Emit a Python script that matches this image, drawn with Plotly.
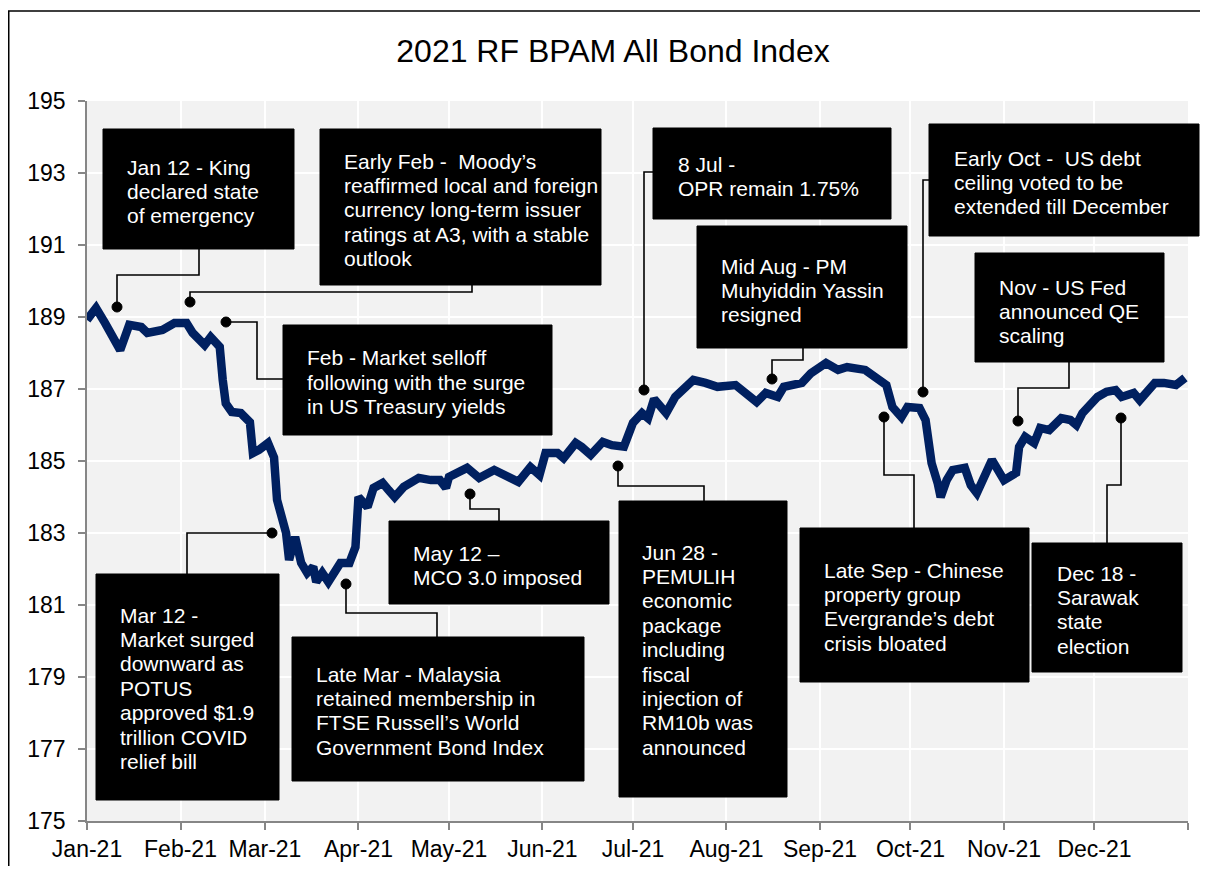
import plotly.graph_objects as go

# ---------------- data ----------------
dates = [
    "2021-01-01", "2021-01-04", "2021-01-07", "2021-01-10", "2021-01-12", "2021-01-15",
    "2021-01-19", "2021-01-21", "2021-01-26", "2021-01-30", "2021-02-03", "2021-02-05",
    "2021-02-09", "2021-02-11", "2021-02-14", "2021-02-15", "2021-02-16", "2021-02-18",
    "2021-02-21", "2021-02-24", "2021-02-25", "2021-02-27", "2021-03-02", "2021-03-04",
    "2021-03-05", "2021-03-08", "2021-03-09", "2021-03-11", "2021-03-13", "2021-03-15",
    "2021-03-17", "2021-03-18", "2021-03-20", "2021-03-22", "2021-03-24", "2021-03-26",
    "2021-03-29", "2021-03-31", "2021-04-01", "2021-04-04", "2021-04-06", "2021-04-09",
    "2021-04-11", "2021-04-13", "2021-04-16", "2021-04-21", "2021-04-25", "2021-04-28",
    "2021-04-30", "2021-05-01", "2021-05-07", "2021-05-11", "2021-05-16", "2021-05-21",
    "2021-05-24", "2021-05-28", "2021-05-31", "2021-06-02", "2021-06-06", "2021-06-08",
    "2021-06-12", "2021-06-14", "2021-06-17", "2021-06-21", "2021-06-24", "2021-06-28",
    "2021-07-01", "2021-07-04", "2021-07-06", "2021-07-08", "2021-07-12", "2021-07-15",
    "2021-07-21", "2021-07-25", "2021-07-29", "2021-08-04", "2021-08-07", "2021-08-11",
    "2021-08-14", "2021-08-18", "2021-08-20", "2021-08-26", "2021-08-29", "2021-09-03",
    "2021-09-07", "2021-09-10", "2021-09-16", "2021-09-20", "2021-09-23", "2021-09-25",
    "2021-09-28", "2021-09-30", "2021-10-04", "2021-10-06", "2021-10-08", "2021-10-10",
    "2021-10-11", "2021-10-13", "2021-10-15", "2021-10-19", "2021-10-21", "2021-10-23",
    "2021-10-26", "2021-10-28", "2021-11-01", "2021-11-05", "2021-11-06", "2021-11-08",
    "2021-11-11", "2021-11-13", "2021-11-16", "2021-11-20", "2021-11-23", "2021-11-25",
    "2021-11-27", "2021-12-02", "2021-12-05", "2021-12-08", "2021-12-10", "2021-12-14",
    "2021-12-16", "2021-12-21", "2021-12-24", "2021-12-28", "2021-12-31",
]
index_values = [
    188.92, 189.25, 188.83, 188.36, 188.08, 188.78,
    188.72, 188.56, 188.64, 188.83, 188.83, 188.56,
    188.22, 188.44, 188.17, 187.25, 186.60, 186.36,
    186.33, 186.08, 185.22, 185.31, 185.50, 185.10,
    183.92, 183.00, 182.25, 182.89, 182.17, 181.89,
    182.06, 181.64, 181.89, 181.64, 181.97, 182.17,
    182.17, 182.61, 184.00, 183.72, 184.25, 184.39,
    184.19, 184.00, 184.28, 184.53, 184.47, 184.47,
    184.25, 184.56, 184.81, 184.53, 184.75, 184.56,
    184.42, 184.83, 184.61, 185.22, 185.22, 185.08,
    185.50, 185.39, 185.17, 185.53, 185.44, 185.40,
    186.06, 186.33, 186.19, 186.72, 186.33, 186.78,
    187.25, 187.17, 187.06, 187.11, 186.89, 186.64,
    186.89, 186.78, 187.06, 187.17, 187.44, 187.72,
    187.53, 187.61, 187.53, 187.31, 187.11, 186.50,
    186.22, 186.50, 186.47, 186.14, 184.94, 184.39,
    184.00, 184.47, 184.75, 184.81, 184.33, 184.11,
    184.75, 185.03, 184.47, 184.67, 185.39, 185.67,
    185.50, 185.92, 185.86, 186.19, 186.14, 186.00,
    186.33, 186.78, 186.92, 186.97, 186.78, 186.89,
    186.69, 187.17, 187.17, 187.11, 187.31,
]

month_ticks = [
    "2021-01-01", "2021-02-01", "2021-03-01", "2021-04-01", "2021-05-01", "2021-06-01",
    "2021-07-01", "2021-08-01", "2021-09-01", "2021-10-01", "2021-11-01", "2021-12-01",
    "2022-01-01",
]
month_labels = [
    "Jan-21", "Feb-21", "Mar-21", "Apr-21", "May-21", "Jun-21",
    "Jul-21", "Aug-21", "Sep-21", "Oct-21", "Nov-21", "Dec-21", "",
]
y_ticks = [175, 177, 179, 181, 183, 185, 187, 189, 191, 193, 195]

title_text = "2021 RF BPAM All Bond Index"

# event annotations: text lines
event_texts = [
    ["Jan 12 - King", "declared state", "of emergency"],
    ["Early Feb -  Moody\u2019s", "reaffirmed local and foreign", "currency long-term issuer",
     "ratings at A3, with a stable", "outlook"],
    ["Feb - Market selloff", "following with the surge", "in US Treasury yields"],
    ["Mar 12 -", "Market surged", "downward as", "POTUS", "approved $1.9",
     "trillion COVID", "relief bill"],
    ["Late Mar - Malaysia", "retained membership in", "FTSE Russell\u2019s World",
     "Government Bond Index"],
    ["May 12 \u2013", "MCO 3.0 imposed"],
    ["Jun 28 -", "PEMULIH", "economic", "package", "including", "fiscal",
     "injection of", "RM10b was", "announced"],
    ["8 Jul -", "OPR remain 1.75%"],
    ["Mid Aug - PM", "Muhyiddin Yassin", "resigned"],
    ["Early Oct -  US debt", "ceiling voted to be", "extended till December"],
    ["Nov - US Fed", "announced QE", "scaling"],
    ["Late Sep - Chinese", "property group", "Evergrande\u2019s debt", "crisis bloated"],
    ["Dec 18 -", "Sarawak", "state", "election"],
]

# layout (page pixel positions): box (x0, y0, x1, y1), text left x, first line y, connector path
boxes = [
    (103, 129, 294, 249), (320, 129, 601, 285), (283, 325, 552, 435),
    (96, 574, 279, 800), (292, 637, 584, 781), (389, 521, 609, 604),
    (619, 501, 787, 797), (653, 128, 891, 219), (697, 226, 907, 348),
    (929, 124, 1199, 236), (975, 253, 1164, 362), (800, 528, 1029, 682),
    (1032, 543, 1182, 672),
]
text_pos = [
    (125, 166), (342, 160), (305, 357), (118, 614), (314, 673), (411, 552),
    (640, 551), (676, 163), (719, 265), (952, 157), (997, 286), (822, 569),
    (1055, 572),
]
connectors = [
    [(199, 249), (199, 275), (117, 275), (117, 307)],
    [(472, 285), (472, 292), (190, 292), (190, 302)],
    [(283, 379), (257, 379), (257, 322), (226, 322)],
    [(187, 574), (187, 533), (272, 533)],
    [(437, 637), (437, 613), (346, 613), (346, 584)],
    [(499, 521), (499, 509), (470, 509), (470, 494)],
    [(704, 501), (704, 486), (618, 486), (618, 466)],
    [(653, 172), (644, 172), (644, 390)],
    [(803, 348), (803, 360), (772, 360), (772, 379)],
    [(929, 180), (923, 180), (923, 392)],
    [(1069, 362), (1069, 388), (1018, 388), (1018, 421)],
    [(914, 528), (914, 475), (884, 475), (884, 417)],
    [(1107, 543), (1107, 485), (1121, 485), (1121, 418)],
]

# ---------------- figure ----------------
OFF = 8                      # page body margin
W, H = 1192, 858             # figure size (fits window with body margin, no overflow)
PL, PT, PR, PB = 87, 101, 1188, 821   # plot area in page pixels
L, T = PL - OFF, PT - OFF
PW, PH = PR - PL, PB - PT
R, B = W - L - PW, H - T - PH


def px(x):
    return (x - PL) / PW


def py(y):
    return (PB - y) / PH


FONT = "Liberation Sans, Arial, sans-serif"
LINE_H = 24.4

fig = go.Figure()
fig.add_trace(go.Scatter(
    x=dates, y=index_values, mode="lines",
    line=dict(color="#002060", width=8.5),
    hoverinfo="x+y", showlegend=False,
))

shapes = []
annotations = []

# outer frame
shapes.append(dict(type="rect", xref="paper", yref="paper",
                   x0=px(8.75), x1=px(1240), y0=py(900), y1=py(11),
                   line=dict(color="black", width=1.5), fillcolor="rgba(0,0,0,0)",
                   layer="above"))

for (bx0, by0, bx1, by1), (tx, ty), lines, conn in zip(boxes, text_pos, event_texts, connectors):
    path = "M " + " L ".join(f"{px(x)},{py(y)}" for x, y in conn)
    shapes.append(dict(type="path", xref="paper", yref="paper", path=path,
                       line=dict(color="black", width=1.6)))
    ex, ey = conn[-1]
    r = 5
    shapes.append(dict(type="circle", xref="paper", yref="paper",
                       x0=px(ex - r), x1=px(ex + r), y0=py(ey + r), y1=py(ey - r),
                       fillcolor="black", line=dict(color="black", width=1)))
    shapes.append(dict(type="rect", xref="paper", yref="paper",
                       x0=px(bx0), x1=px(bx1), y0=py(by1), y1=py(by0),
                       fillcolor="black", line=dict(color="black", width=1)))
    for i, ln in enumerate(lines):
        annotations.append(dict(
            xref="paper", yref="paper", x=px(tx), y=py(ty + i * LINE_H + 1),
            xanchor="left", yanchor="middle", showarrow=False, text=ln,
            font=dict(family=FONT, size=21, color="white"),
        ))

fig.update_layout(
    width=W, height=H,
    margin=dict(l=L, r=R, t=T, b=B, autoexpand=False),
    paper_bgcolor="white", plot_bgcolor="#f2f2f2",
    title=dict(text=title_text, x=(613 - OFF) / W, xref="container", xanchor="center",
               y=1 - (51 - OFF) / H, yref="container", yanchor="middle",
               font=dict(family=FONT, size=32, color="black")),
    font=dict(family=FONT, color="black"),
    shapes=shapes, annotations=annotations,
    showlegend=False,
)
fig.update_xaxes(
    type="date", range=["2021-01-01", "2022-01-01"],
    tickmode="array", tickvals=month_ticks, ticktext=month_labels,
    showgrid=True, gridcolor="white", gridwidth=2,
    showline=True, linecolor="#868686", linewidth=1.5,
    ticks="outside", ticklen=7, tickcolor="#868686", tickwidth=1.5,
    tickfont=dict(family=FONT, size=23, color="black"),
    zeroline=False,
)
fig.update_yaxes(
    range=[175, 195], tickmode="array", tickvals=y_ticks,
    showgrid=True, gridcolor="white", gridwidth=2,
    showline=True, linecolor="#868686", linewidth=1.5,
    ticks="outside", ticklen=7, tickcolor="#868686", tickwidth=1.5,
    tickfont=dict(family=FONT, size=23, color="black"),
    ticklabelstandoff=8, zeroline=False,
)

fig.write_html("out.html")
